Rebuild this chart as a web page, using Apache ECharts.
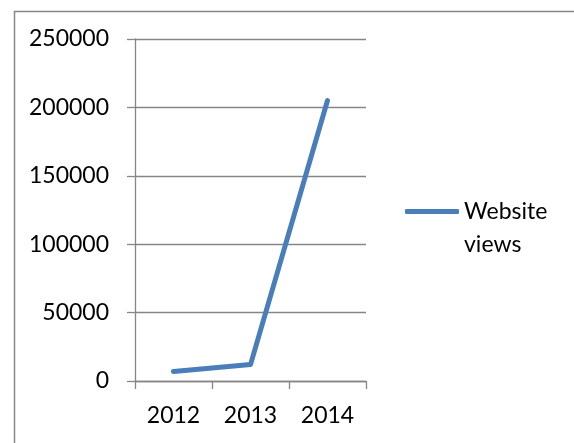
<!DOCTYPE html>
<html>
<head>
<meta charset="utf-8">
<script src="https://cdn.jsdelivr.net/npm/echarts@6/dist/echarts.min.js"></script>
<style>
html,body{margin:0;padding:0;background:#fff;}
#c{width:574px;height:443px;}
</style>
</head>
<body>
<div id="c"></div>
<script>
const categories = ['2012', '2013', '2014'];
const seriesName = 'Website views';
const views = [7000, 12000, 205000];
const yTicks = { min: 0, max: 250000, interval: 50000 };

const FONT = 'Lato';
const chart = echarts.init(document.getElementById('c'), null, { renderer: 'canvas' });
chart.setOption({
  animation: false,
  backgroundColor: '#fff',
  textStyle: { fontFamily: FONT },
  graphic: [{
    type: 'rect', left: 12, top: 9,
    shape: { width: 700, height: 600 },
    style: { fill: 'none', stroke: '#868686', lineWidth: 1.5 },
    silent: true, z: -1
  }],
  grid: { left: 135, right: 208, top: 39, bottom: 62, containLabel: false },
  legend: {
    data: [seriesName],
    left: 405, top: 162, padding: 0,
    itemWidth: 54, itemHeight: 5, itemGap: 0,
    icon: 'roundRect',
    formatter: () => ' \nWebsite\nviews',
    textStyle: { fontFamily: FONT, fontSize: 23, color: '#000', lineHeight: 33 }
  },
  xAxis: {
    type: 'category', data: categories, boundaryGap: true,
    axisLine: { lineStyle: { color: '#868686', width: 1.3 } },
    axisTick: { show: true, alignWithLabel: false, length: 8, lineStyle: { color: '#868686', width: 1.3 } },
    axisLabel: { color: '#000', fontSize: 23, fontFamily: FONT, margin: 23 }
  },
  yAxis: {
    type: 'value', min: yTicks.min, max: yTicks.max, interval: yTicks.interval,
    axisLine: { show: true, lineStyle: { color: '#868686', width: 1.3 } },
    axisTick: { show: true, length: 8, lineStyle: { color: '#868686', width: 1.3 } },
    splitLine: { show: true, lineStyle: { color: '#868686', width: 1.3 } },
    axisLabel: { color: '#000', fontSize: 23, fontFamily: FONT, margin: 26, formatter: v => String(v) }
  },
  series: [{
    name: seriesName, type: 'line', data: views,
    symbol: 'none',
    lineStyle: { color: '#4a7ebb', width: 5, cap: 'round', join: 'round' },
    itemStyle: { color: '#4a7ebb' }
  }]
});
</script>
</body>
</html>
